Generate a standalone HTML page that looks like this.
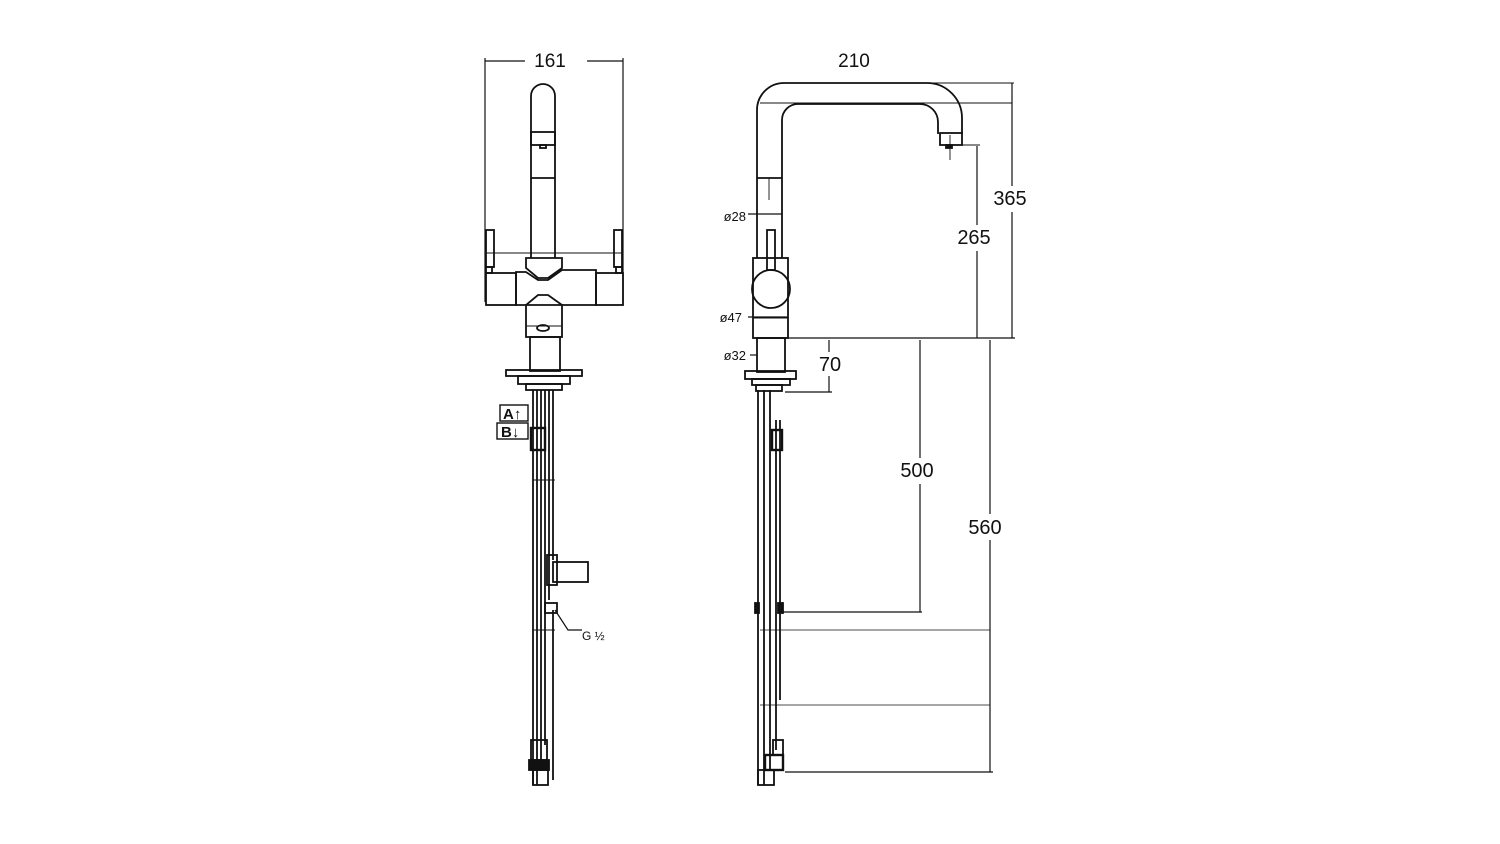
<!DOCTYPE html>
<html><head><meta charset="utf-8"><style>
html,body{margin:0;padding:0;background:#fff;}
svg{display:block;}
text{font-family:"Liberation Sans",sans-serif;fill:#111;}
</style></head><body>
<svg width="1500" height="844" viewBox="0 0 1500 844" xmlns="http://www.w3.org/2000/svg">
<rect width="1500" height="844" fill="#fff"/>
<g fill="none" stroke="#111" stroke-width="1.8">
<line x1="485" y1="58" x2="485" y2="302" stroke-width="1.2"/>
<line x1="623" y1="58" x2="623" y2="302" stroke-width="1.2"/>
<line x1="485" y1="61" x2="525" y2="61" stroke-width="1.2"/>
<line x1="587" y1="61" x2="623" y2="61" stroke-width="1.2"/>
<path d="M531 258 V96 A12 12 0 0 1 555 96 V258"/>
<rect x="531" y="132" width="24" height="13"/>
<rect x="540" y="145" width="6" height="3"/>
<line x1="531" y1="178" x2="555" y2="178"/>
<rect x="486" y="230" width="8" height="37"/>
<rect x="486" y="267" width="6" height="6"/>
<rect x="614" y="230" width="8" height="37"/>
<rect x="616" y="267" width="6" height="6"/>
<line x1="485" y1="253" x2="623" y2="253" stroke-width="0.9"/>
<path d="M526 258 H562 V268 L548 278 H538 L526 268 Z"/>
<rect x="486" y="273" width="30" height="32"/>
<rect x="596" y="273" width="27" height="32"/>
<path d="M516 272 H526 L538 280 H548 L562 270 H596 V305 H516 Z"/>
<path d="M526 305 V337 H562 V305 L548 295 H538 Z"/>
<line x1="526" y1="326" x2="562" y2="326" stroke-width="0.9"/>
<ellipse cx="543" cy="328" rx="6" ry="3"/>
<rect x="530" y="337" width="30" height="34"/>
<rect x="506" y="370" width="76" height="6"/>
<rect x="518" y="376" width="52" height="8"/>
<rect x="526" y="384" width="36" height="6"/>
<line x1="533" y1="390" x2="533" y2="785"/>
<line x1="537" y1="390" x2="537" y2="785"/>
<line x1="541" y1="390" x2="541" y2="760"/>
<line x1="545" y1="390" x2="545" y2="745"/>
<line x1="549" y1="390" x2="549" y2="600"/>
<line x1="553" y1="390" x2="553" y2="560"/>
<line x1="553" y1="610" x2="553" y2="780"/>
<rect x="531" y="428" width="14" height="22" stroke-width="2.4"/>
<rect x="553" y="562" width="35" height="20"/>
<rect x="547" y="555" width="10" height="30"/>
<rect x="545" y="603" width="12" height="10"/>
<path d="M555 610 L568 630 H582" stroke-width="1.2"/>
<line x1="533" y1="480" x2="555" y2="480" stroke-width="0.9"/>
<line x1="533" y1="630" x2="555" y2="630" stroke-width="0.9"/>
<rect x="531" y="740" width="16" height="20"/>
<rect x="529" y="760" width="20" height="10" fill="#111"/>
<rect x="533" y="770" width="15" height="15"/>
<rect x="500" y="405" width="28" height="16" stroke-width="1.4"/>
<rect x="497" y="423" width="31" height="16" stroke-width="1.4"/>

<path d="M757 258 V110 A27 27 0 0 1 784 83 H927 A35 35 0 0 1 962 118 V134"/>
<path d="M782 258 V120 A16 16 0 0 1 798 104 H920 A18 18 0 0 1 938 122 V134"/>
<rect x="940" y="133" width="22" height="12"/>
<rect x="946" y="145" width="6" height="3" fill="#111"/>
<line x1="950" y1="135" x2="950" y2="160" stroke-width="0.9"/>
<line x1="760" y1="103" x2="1012" y2="103" stroke-width="0.9"/>
<line x1="930" y1="83" x2="1014" y2="83" stroke-width="0.9"/>
<line x1="957" y1="145" x2="980" y2="145" stroke-width="0.9"/>
<line x1="757" y1="178" x2="782" y2="178"/>
<line x1="769" y1="178" x2="769" y2="200" stroke-width="0.9"/>
<rect x="767" y="230" width="8" height="40"/>
<rect x="753" y="258" width="35" height="80"/>
<circle cx="771" cy="289" r="19"/>
<line x1="753" y1="318" x2="788" y2="318" stroke-width="0.9"/>
<rect x="757" y="338" width="28" height="34"/>
<rect x="745" y="371" width="51" height="8"/>
<rect x="752" y="379" width="38" height="6"/>
<rect x="756" y="385" width="26" height="6"/>
<line x1="758" y1="390" x2="758" y2="785"/>
<line x1="764" y1="390" x2="764" y2="785"/>
<line x1="770" y1="390" x2="770" y2="770"/>
<line x1="776" y1="420" x2="776" y2="750"/>
<line x1="780" y1="420" x2="780" y2="700"/>
<rect x="772" y="430" width="10" height="20" stroke-width="2.4"/>
<rect x="755" y="603" width="4" height="10" fill="#111"/>
<rect x="778" y="603" width="5" height="10" fill="#111"/>
<rect x="773" y="740" width="10" height="15"/>
<rect x="765" y="755" width="18" height="15" stroke-width="2.4"/>
<rect x="758" y="770" width="16" height="15"/>
<line x1="748" y1="214" x2="782" y2="214" stroke-width="1.2"/>
<line x1="748" y1="317" x2="788" y2="317" stroke-width="1.2"/>
<line x1="750" y1="355" x2="757" y2="355" stroke-width="1.2"/>
<line x1="785" y1="338" x2="1015" y2="338" stroke-width="1.2"/>
<line x1="1012" y1="83" x2="1012" y2="338" stroke-width="1.2"/>
<line x1="977" y1="146" x2="977" y2="338" stroke-width="1.2"/>
<line x1="829" y1="340" x2="829" y2="392" stroke-width="1.2"/>
<line x1="785" y1="392" x2="832" y2="392" stroke-width="1.2"/>
<line x1="920" y1="340" x2="920" y2="612" stroke-width="1.2"/>
<line x1="783" y1="612" x2="922" y2="612" stroke-width="1.2"/>
<line x1="990" y1="340" x2="990" y2="772" stroke-width="1.2"/>
<line x1="785" y1="772" x2="993" y2="772" stroke-width="1.2"/>
<line x1="760" y1="630" x2="990" y2="630" stroke-width="0.8"/>
<line x1="760" y1="705" x2="990" y2="705" stroke-width="0.8"/>
</g>
<g fill="#fff" stroke="none">
<rect x="822" y="352" width="18" height="24"/>
<rect x="895" y="458" width="48" height="26"/>
<rect x="962" y="514" width="48" height="26"/>
<rect x="952" y="225" width="46" height="26"/>
<rect x="988" y="186" width="46" height="26"/>
</g>
<text x="550" y="67" font-size="19" text-anchor="middle">161</text>
<text x="854" y="67" font-size="19" text-anchor="middle">210</text>
<text x="1010" y="205" font-size="20" text-anchor="middle">365</text>
<text x="974" y="244" font-size="20" text-anchor="middle">265</text>
<text x="830" y="371" font-size="20" text-anchor="middle">70</text>
<text x="917" y="477" font-size="20" text-anchor="middle">500</text>
<text x="985" y="534" font-size="20" text-anchor="middle">560</text>
<text x="746" y="221" font-size="13" text-anchor="end">ø28</text>
<text x="742" y="322" font-size="13" text-anchor="end">ø47</text>
<text x="746" y="360" font-size="13" text-anchor="end">ø32</text>
<text x="503" y="419" font-size="15" font-weight="bold">A↑</text>
<text x="501" y="437" font-size="15" font-weight="bold">B↓</text>
<text x="582" y="640" font-size="12">G ½</text>
</svg>
</body></html>
